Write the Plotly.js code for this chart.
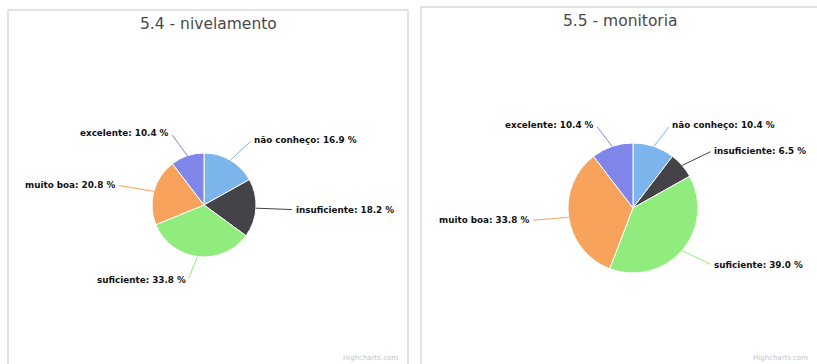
<!DOCTYPE html>
<html><head><meta charset="utf-8">
<script src="https://cdn.plot.ly/plotly-3.0.1.min.js"></script>
<style>html,body{margin:0;padding:0;background:#fff}#chart{width:817px;height:364px}</style>
</head><body><div id="chart"></div>
<script>
const categories = ['não conheço', 'insuficiente', 'suficiente', 'muito boa', 'excelente'];
const values54 = [16.9, 18.2, 33.8, 20.8, 10.4];
const values55 = [10.4, 6.5, 39.0, 33.8, 10.4];
const titles = ['5.4 - nivelamento', '5.5 - monitoria'];
const colors = ['#7cb5ec', '#434348', '#90ed7d', '#f7a35c', '#8085e9'];

const W = 817, H = 364;
const panels = [
  {vals: values54, title: titles[0], cx: 204, cy: 205, r: 52, box: [8, 10, 408, 370], tx: 208, ty: 24, cr: 400},
  {vals: values55, title: titles[1], cx: 633, cy: 208, r: 65, box: [421, 7, 830, 370], tx: 620, ty: 21, cr: 810}
];
const px = x => x / W, py = y => 1 - y / H;

const data = [], annotations = [], shapes = [];
panels.forEach(p => {
  data.push({
    type: 'pie', labels: categories, values: p.vals, sort: false, direction: 'clockwise', rotation: 0,
    marker: {colors: colors, line: {color: '#ffffff', width: 1}},
    textinfo: 'none', hoverinfo: 'none', showlegend: false,
    domain: {x: [px(p.cx - p.r), px(p.cx + p.r)], y: [py(p.cy + p.r), py(p.cy - p.r)]}
  });
  shapes.push({type: 'rect', xref: 'paper', yref: 'paper',
    x0: px(p.box[0]), x1: px(p.box[2]), y0: py(p.box[3]), y1: py(p.box[1]),
    line: {color: '#d9d9d9', width: 1.5}, fillcolor: 'rgba(0,0,0,0)'});
  annotations.push({xref: 'paper', yref: 'paper', x: px(p.tx), y: py(p.ty), xanchor: 'center', yanchor: 'middle',
    text: p.title, showarrow: false, font: {family: 'DejaVu Sans', size: 15.5, color: '#4a4a4a'}});
  annotations.push({xref: 'paper', yref: 'paper', x: px(p.cr), y: py(358), xanchor: 'right', yanchor: 'middle',
    text: 'Highcharts.com', showarrow: false, font: {family: 'DejaVu Sans', size: 7, color: '#c4c4c4'}});
  const total = p.vals.reduce((a, b) => a + b, 0);
  let cum = 0;
  p.vals.forEach((v, i) => {
    const mid = (cum + v / 2) / total * 2 * Math.PI;
    cum += v;
    const s = Math.sin(mid), c = Math.cos(mid);
    const hx = p.cx + p.r * s, hy = p.cy - p.r * c;
    const D = p.r + 32;
    const tx = p.cx + D * s + (s >= 0 ? 6 : -6), ty = p.cy - D * c * 0.9;
    annotations.push({
      xref: 'paper', yref: 'paper', x: px(hx), y: py(hy),
      ax: tx - hx, ay: ty - hy, xanchor: s >= 0 ? 'left' : 'right', yanchor: 'middle',
      text: categories[i] + ': ' + v.toFixed(1) + ' %',
      showarrow: true, arrowhead: 0, arrowwidth: 1, arrowcolor: colors[i], standoff: 0, startstandoff: 2,
      font: {family: 'DejaVu Sans', size: 8.8, color: '#111', weight: 'bold'}
    });
  });
});

Plotly.newPlot('chart', data, {
  width: W, height: H, margin: {l: 0, r: 0, t: 0, b: 0},
  paper_bgcolor: '#fff', plot_bgcolor: '#fff',
  annotations: annotations, shapes: shapes
}, {displayModeBar: false, staticPlot: true});
</script></body></html>
